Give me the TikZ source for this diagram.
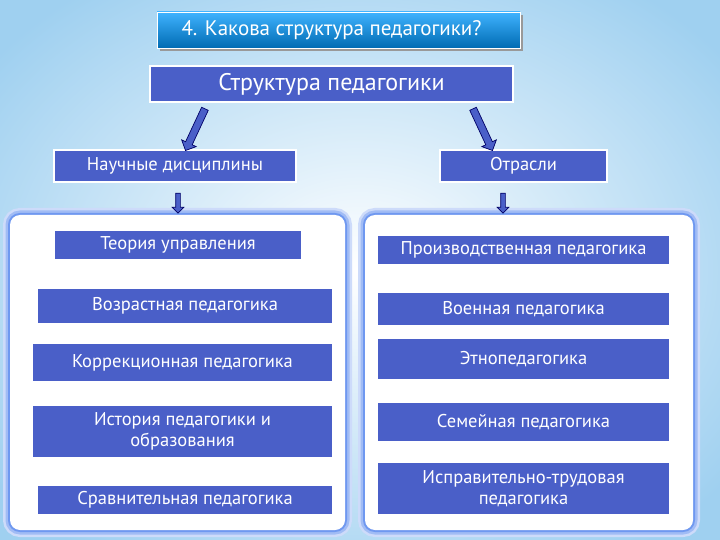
\documentclass[tikz,border=0pt]{standalone}
\usepackage{fontspec}
\setmainfont{PT Sans}
\usetikzlibrary{shapes.arrows,shadows}
\definecolor{bx}{HTML}{4A5FC8}
\definecolor{bgb}{HTML}{9FD0F0}
\definecolor{glow}{HTML}{6F98F0}
\begin{document}
\begin{tikzpicture}[x=1pt,y=-1pt,
 box/.style={fill=bx,draw=white,line width=1.2pt,text=white,font=\fontsize{18.5}{21}\selectfont,align=center,inner sep=0pt},
 panel/.style={rounded corners=10pt},
 barrow/.style={single arrow,draw=blue!40!black,fill=bx,minimum height=46pt,single arrow head extend=4pt,minimum width=16pt,inner sep=3pt,line width=0.7pt},
 sarrow/.style={single arrow,draw=blue!40!black,fill=bx,minimum height=20pt,single arrow head extend=3.5pt,minimum width=10pt,inner sep=2pt,line width=0.7pt,rotate=-90}]
\useasboundingbox (0,0) rectangle (720,540);
\shade[inner color=white,outer color=bgb] (-100,-80) rectangle (820,620);
\foreach \x/\y/\w/\h in {10/215/335/315,365/215/328/315}{
 \draw[panel,line width=14pt,glow!35] (\x,\y) rectangle ++(\w,\h);
 \draw[panel,line width=9pt,glow!65] (\x,\y) rectangle ++(\w,\h);
 \draw[panel,line width=4pt,glow] (\x,\y) rectangle ++(\w,\h);
 \fill[panel,white] (\x,\y) rectangle ++(\w,\h);}
\node[fill=black!40,minimum width=363pt,minimum height=36pt] at (341,33) {};
\node[top color=cyan!60!blue!75,bottom color=cyan!60!blue!70!black,draw=white,line width=0.8pt,minimum width=363pt,minimum height=36pt,text=white,font=\fontsize{21}{24}\selectfont,inner sep=0pt] (t) at (338.5,30) {\hspace*{-14pt}4. Какова структура педагогики?};
\node[box,minimum width=363pt,minimum height=36pt,font=\fontsize{24}{27}\selectfont] (s) at (331.5,84) {Структура педагогики};
\node[box,minimum width=242pt,minimum height=32pt] (n) at (175,166) {Научные дисциплины};
\node[box,minimum width=167pt,minimum height=32pt] (o) at (523.5,166) {Отрасли};
\node[barrow,rotate=-115] (a1) at (196,128) {};
\node[barrow,rotate=-65] (a2) at (482,128) {};
\node[sarrow] (a3) at (178,202) {};
\node[sarrow] (a4) at (503,202) {};
\node[box,minimum width=248pt,minimum height=30pt] (l1) at (178,245) {Теория управления};
\node[box,minimum width=296pt,minimum height=36pt] (l2) at (185,306) {Возрастная педагогика};
\node[box,minimum width=301pt,minimum height=39pt] (l3) at (182.5,362.5) {Коррекционная педагогика};
\node[box,minimum width=301pt,minimum height=53pt] (l4) at (182.5,431.5) {История педагогики и\\образования};
\node[box,minimum width=296pt,minimum height=30pt] (l5) at (185,500) {Сравнительная педагогика};
\node[box,minimum width=293pt,minimum height=30pt] (r1) at (523.5,250) {Производственная педагогика};
\node[box,minimum width=293pt,minimum height=34pt] (r2) at (523.5,309) {Военная педагогика};
\node[box,minimum width=293pt,minimum height=42pt] (r3) at (523.5,359) {Этнопедагогика};
\node[box,minimum width=293pt,minimum height=40pt] (r4) at (523.5,422) {Семейная педагогика};
\node[box,minimum width=293pt,minimum height=53pt] (r5) at (523.5,488.5) {Исправительно-трудовая\\педагогика};
\end{tikzpicture}
\end{document}
